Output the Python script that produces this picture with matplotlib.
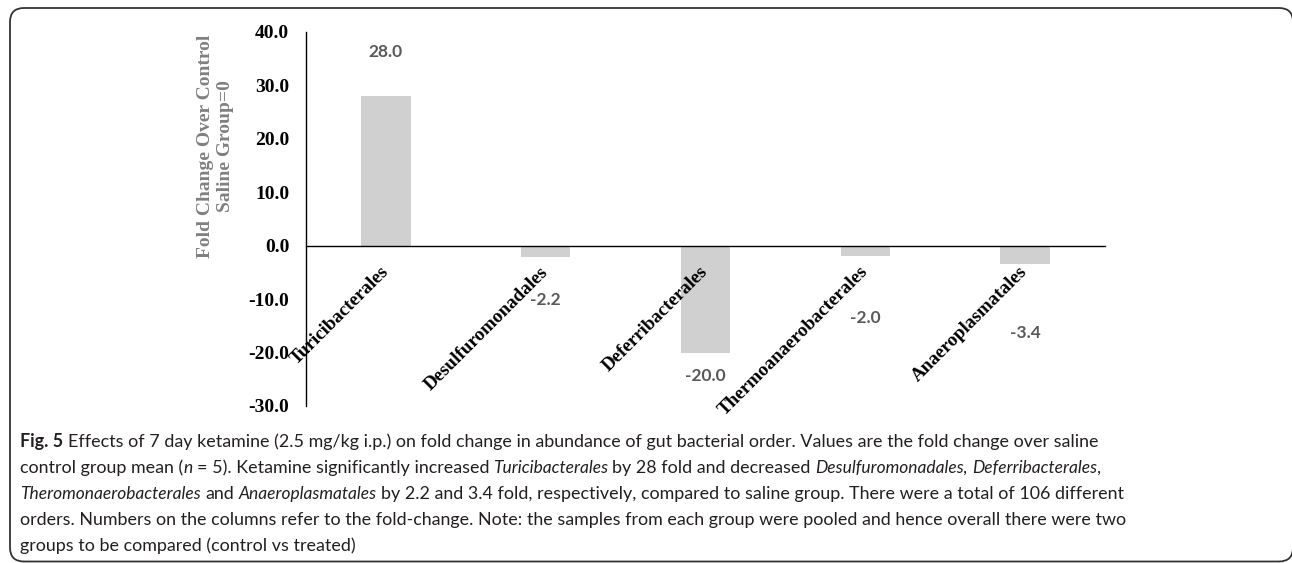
import matplotlib
matplotlib.use('Agg')
import matplotlib.pyplot as plt
from matplotlib.patches import FancyBboxPatch
from matplotlib.font_manager import FontProperties, findfont, get_font

# ---- data ----
categories = ['Turicibacterales', 'Desulfuromonadales', 'Deferribacterales',
              'Thermoanaerobacterales', 'Anaeroplasmatales']
fold_change = [28.0, -2.2, -20.0, -2.0, -3.4]
value_labels = ['28.0', '-2.2', '-20.0', '-2.0', '-3.4']
y_ticks = [40, 30, 20, 10, 0, -10, -20, -30]
y_tick_labels = ['40.0', '30.0', '20.0', '10.0', '0.0', '-10.0', '-20.0', '-30.0']

# layout: vertical positions (in data units) where the value labels sit
label_pos = [36.2, -10.1, -24.4, -13.5, -16.3]

W, H = 1292, 563
DPI = 100
fig = plt.figure(figsize=(W / DPI, H / DPI), dpi=DPI)
ax = fig.add_axes([306 / W, 1 - 406 / H, 799 / W, 374 / H])

xpos = list(range(len(categories)))
ax.bar(xpos, fold_change, width=0.31, color='#d0d0d0', zorder=1)
ax.set_xlim(-0.5, 4.5)
ax.set_ylim(-30, 40)

for sp in ['top', 'right']:
    ax.spines[sp].set_visible(False)
ax.spines['bottom'].set_position(('data', 0))
ax.spines['left'].set_linewidth(1.0)
ax.spines['bottom'].set_linewidth(1.0)
ax.spines['bottom'].set_zorder(3)

serif = 'Liberation Serif'
ax.set_yticks(y_ticks)
ax.set_yticklabels(y_tick_labels, fontfamily=serif, fontweight='bold', fontsize=14)
ax.tick_params(axis='y', length=0, pad=12)

ax.set_xticks(xpos)
ax.set_xticklabels(categories, fontfamily=serif, fontweight='bold', fontsize=13.7,
                   rotation=45, ha='right', va='center', rotation_mode='anchor')
ax.tick_params(axis='x', length=0, pad=17)

for xi, lab, ly in zip(xpos, value_labels, label_pos):
    ax.text(xi, ly, lab, ha='center', va='center', fontsize=12.5,
            fontweight='bold', fontfamily='Lato', color='#595959')

fig.text(215.5 / W, 1 - 146 / H, 'Fold Change Over Control\nSaline Group=0',
         rotation=90, ha='center', va='center', multialignment='center',
         color='#808080', fontweight='bold', fontfamily=serif, fontsize=14,
         linespacing=1.2)

# frame
frame = FancyBboxPatch((0.10, 0.015), 12.83, 5.535,
                       boxstyle='round,pad=0,rounding_size=0.14',
                       transform=fig.dpi_scale_trans, fill=False,
                       ec='#333333', lw=1.3)
fig.add_artist(frame)

# ---- caption, drawn as styled runs ----
CAP_FAMILY = 'Lato'
STYLES = {
    'r': dict(family=CAP_FAMILY, style='normal', weight='normal', size=12.9),
    'i': dict(family=CAP_FAMILY, style='italic', weight='normal', size=12.5),
    'b': dict(family=CAP_FAMILY, style='normal', weight='bold', size=12.9),
}


def advance(s, st):
    prop = FontProperties(family=st['family'], style=st['style'], weight=st['weight'])
    font = get_font(findfont(prop))
    font.set_size(st['size'], DPI)
    w = 0.0
    for c in s:
        g = font.load_char(ord(c))
        w += g.linearHoriAdvance / 65536.0
    return w


caption_lines = [
    [('Fig. 5', 'b'), (' Effects of 7 day ketamine (2.5 mg/kg i.p.) on fold change in abundance of gut bacterial order. Values are the fold change over saline', 'r')],
    [('control group mean (', 'r'), ('n', 'i'), (' = 5). Ketamine significantly increased ', 'r'),
     ('Turicibacterales', 'i'), (' by 28 fold and decreased ', 'r'), ('Desulfuromonadales', 'i'),
     (', ', 'r'), ('Deferribacterales', 'i'), (',', 'r')],
    [('Theromonaerobacterales', 'i'), (' and ', 'r'), ('Anaeroplasmatales', 'i'),
     (' by 2.2 and 3.4 fold, respectively, compared to saline group. There were a total of 106 different', 'r')],
    [('orders. Numbers on the columns refer to the fold-change. Note: the samples from each group were pooled and hence overall there were two', 'r')],
    [('groups to be compared (control vs treated)', 'r')],
]
baselines = [447, 473, 499, 525, 551]
for runs, yb in zip(caption_lines, baselines):
    x = 20.0
    for txt, key in runs:
        st = STYLES[key]
        lead = len(txt) - len(txt.lstrip(' '))
        body = txt.strip(' ')
        if body:
            fig.text((x + advance(txt[:lead], st)) / W, 1 - yb / H, body,
                     ha='left', va='baseline', fontsize=st['size'],
                     fontfamily=st['family'], fontstyle=st['style'],
                     fontweight=st['weight'], color='#231f20')
        x += advance(txt, st)

fig.savefig('out.png', dpi=DPI)
